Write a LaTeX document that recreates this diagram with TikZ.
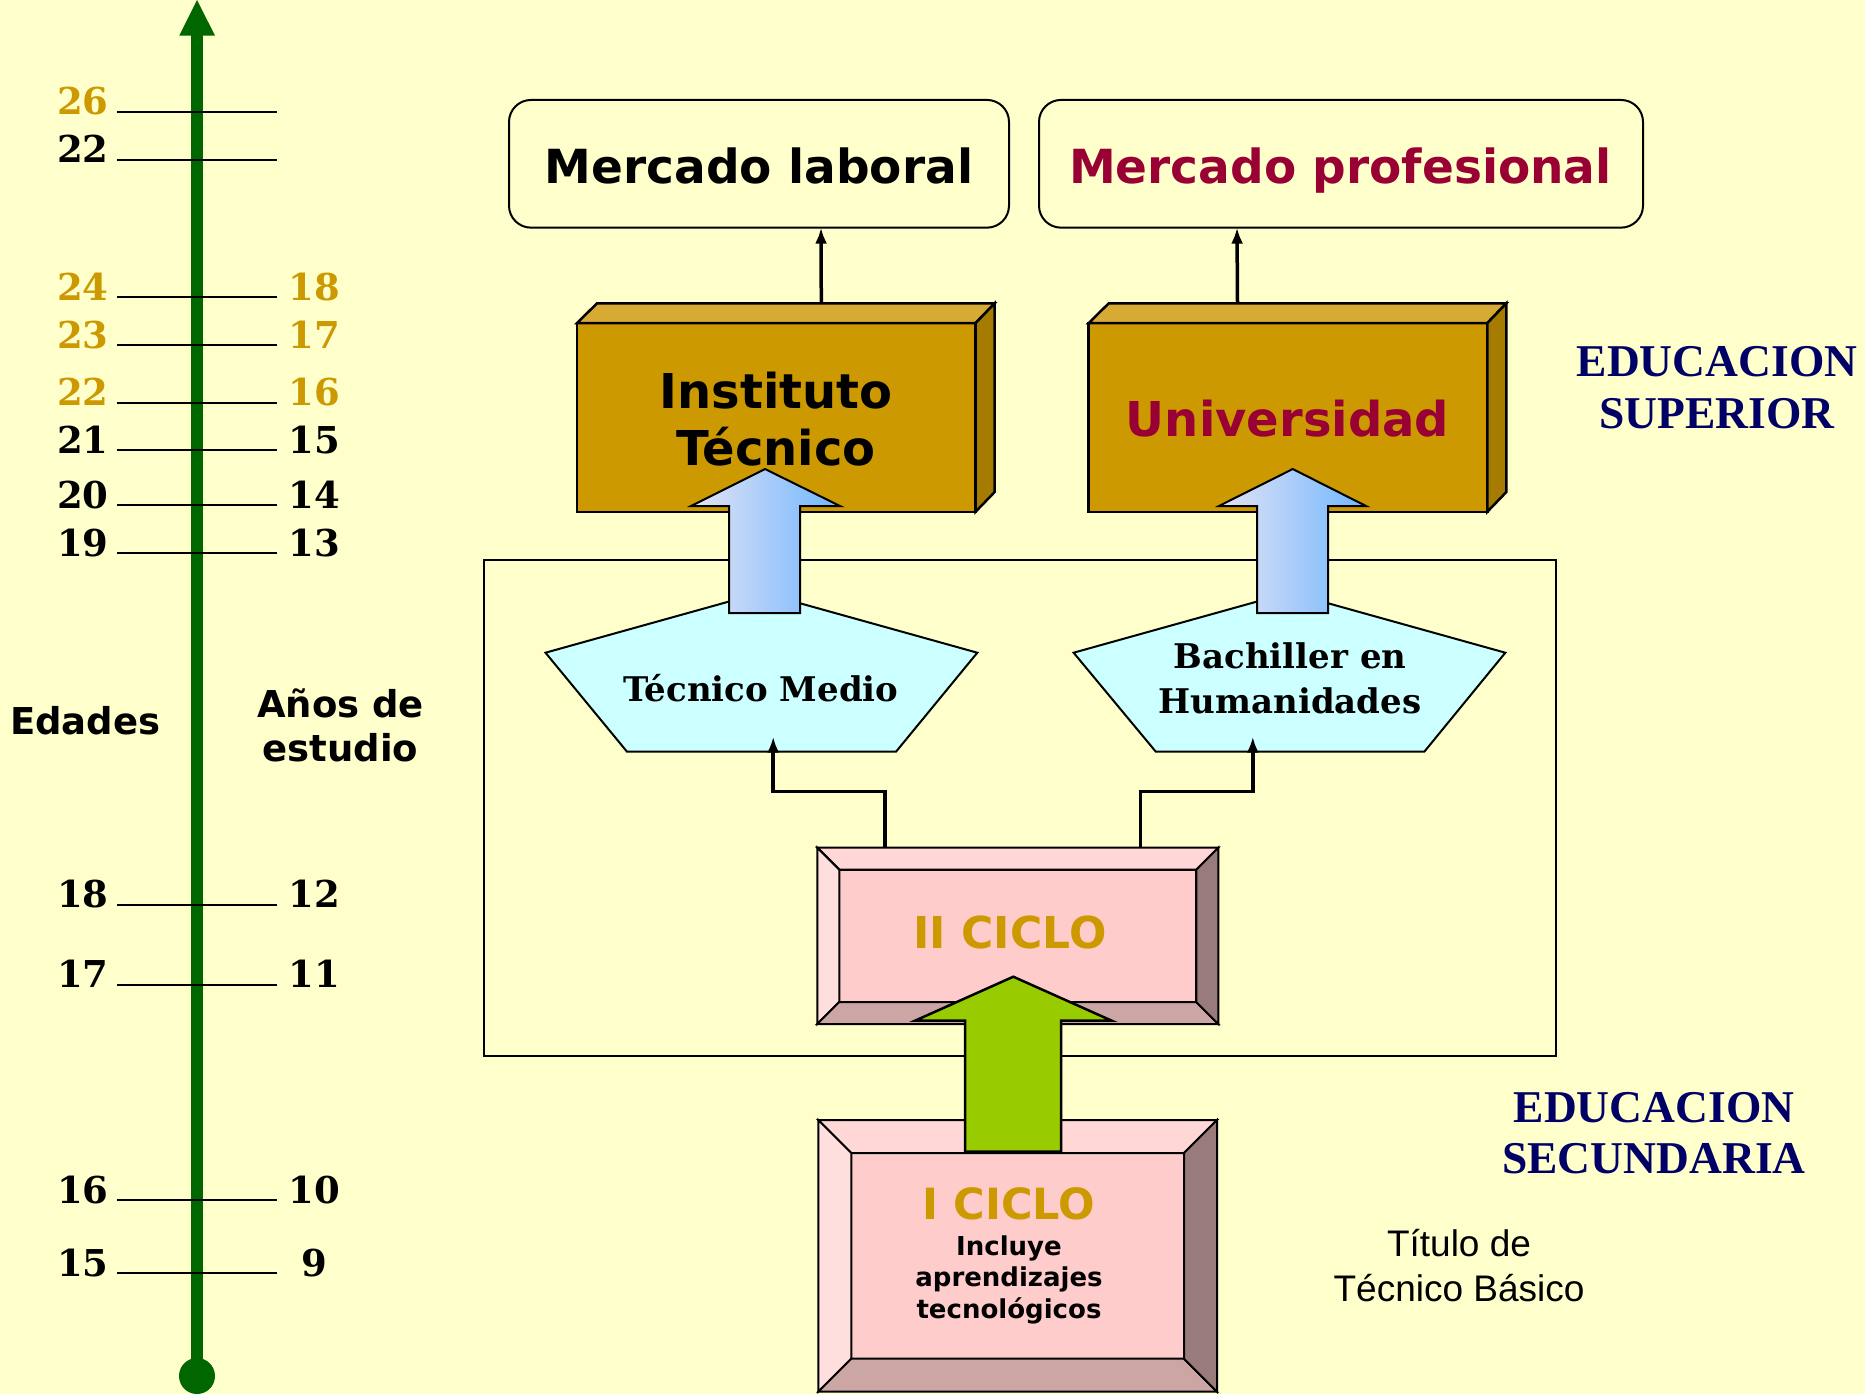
\documentclass[tikz,border=0pt]{standalone}
\usepackage{fontspec}
\usetikzlibrary{arrows.meta}
\newfontfamily\vsans{DejaVu Sans}
\newfontfamily\gserif{DejaVu Serif}
\newfontfamily\tserif{Liberation Serif}
\newfontfamily\asans{Liberation Sans}
\definecolor{bg}{HTML}{FFFFCC}
\definecolor{gold}{HTML}{CC9900}
\definecolor{goldtop}{HTML}{D6AA33}
\definecolor{goldside}{HTML}{A67C00}
\definecolor{crim}{HTML}{990033}
\definecolor{navy}{HTML}{000066}
\definecolor{axisgreen}{HTML}{006600}
\definecolor{cyanl}{HTML}{CCFFFF}
\definecolor{pinkin}{HTML}{FFCCCC}
\definecolor{pinktop}{HTML}{FFD7D7}
\definecolor{pinkleft}{HTML}{FFDEDE}
\definecolor{pinkbot}{HTML}{CCA5A5}
\definecolor{pinkright}{HTML}{9A7B7B}
\definecolor{lgreen}{HTML}{99CC00}
\definecolor{bla}{HTML}{E4E4F4}
\definecolor{blb}{HTML}{70B6FF}
\newcommand\bevbox[5]{%
 \filldraw[fill=pinkin,bev] ({#1+#5},{#2+#5}) rectangle ({#3-#5},{#4-#5});
 \filldraw[fill=pinktop,bev] (#1,#2) -- (#3,#2) -- ({#3-#5},{#2+#5}) -- ({#1+#5},{#2+#5}) -- cycle;
 \filldraw[fill=pinkleft,bev] (#1,#2) -- ({#1+#5},{#2+#5}) -- ({#1+#5},{#4-#5}) -- (#1,#4) -- cycle;
 \filldraw[fill=pinkbot,bev] (#1,#4) -- ({#1+#5},{#4-#5}) -- ({#3-#5},{#4-#5}) -- (#3,#4) -- cycle;
 \filldraw[fill=pinkright,bev] (#3,#2) -- (#3,#4) -- ({#3-#5},{#4-#5}) -- ({#3-#5},{#2+#5}) -- cycle;
}
\begin{document}
\begin{tikzpicture}[x=1pt,y=-1pt,
  bev/.style={draw=black,line width=2pt,line join=miter},
  conn/.style={line width=3.5pt,-{Latex[length=16pt,width=12pt]}},
  tick/.style={line width=2pt},
  agel/.style={anchor=base west,inner sep=0pt,font=\gserif\bfseries\fontsize{37}{40}\selectfont},
  yrl/.style={anchor=base,inner sep=0pt,font=\gserif\bfseries\fontsize{37}{40}\selectfont},
  vb/.style={inner sep=0pt,font=\vsans\bfseries\fontsize{#1}{#1}\selectfont},
  gb/.style={inner sep=0pt,font=\gserif\bfseries\fontsize{#1}{#1}\selectfont},
  tb/.style={inner sep=0pt,font=\tserif\bfseries\fontsize{#1}{#1}\selectfont,text=navy},
  ar/.style={inner sep=0pt,font=\asans\fontsize{#1}{#1}\selectfont},
  mbox/.style={draw=black,line width=2pt,rounded corners=22pt,inner sep=0pt,outer sep=0pt,minimum height=127.7pt},
  front/.style={draw=black,line width=2.5pt,fill=gold,inner sep=0pt,outer sep=0pt,minimum width=398.6pt,minimum height=188.7pt},
  face/.style={draw=black,line width=2.5pt,line join=miter},
  blk/.style={draw=black,line width=2pt,line join=miter}
]
\fill[bg] (0,0) rectangle (1865,1394);
\useasboundingbox (0,0) rectangle (1865,1394);

% time axis
\fill[axisgreen] (191,1376) rectangle (203,34);
\fill[axisgreen] (179.3,35.6) -- (197,0) -- (215,35.6) -- cycle;
\fill[axisgreen] (197,1376) circle[radius=18pt];

\foreach \yy/\aa/\ac [count=\i] in {111.7/26/gold,159.6/22/black,297/24/gold,345.2/23/gold,402.6/22/gold,450.4/21/black,505.2/20/black,553/19/black,904.8/18/black,984.8/17/black,1200/16/black,1273.4/15/black}{
  \draw[tick] (116.7,\yy) -- (276.7,\yy);
  \node[agel,text=\ac] (age\i) at (57,\yy+3) {\aa};
}
\foreach \yy/\bb/\bc [count=\i] in {297/18/gold,345.2/17/gold,402.6/16/gold,450.4/15/black,505.2/14/black,553/13/black,904.8/12/black,984.8/11/black,1200/10/black,1273.4/9/black}{
  \node[yrl,text=\bc] (yr\i) at (314,\yy+3) {\bb};
}
\node[vb=37,anchor=base west] (edades) at (10,734) {Edades};
\node[vb=37,anchor=base] (anos) at (340.5,717.5) {Años de};
\node[vb=37,anchor=base] (estudio) at (340.5,761) {estudio};

% markets
\node[mbox,minimum width=500pt] (ml) at (759,163.8) {};
\node[vb=47,anchor=base] (mltxt) at (759,183.3) {Mercado laboral};
\node[mbox,minimum width=604pt] (mp) at (1341,163.8) {};
\node[vb=47,anchor=base,text=crim] (mptxt) at (1340.4,183.3) {Mercado profesional};

% frame
\draw[line width=2pt] (484,559.5) rectangle (1556,1055.7);

% pentagons
\filldraw[fill=cyanl,blk] (545.5,652.7) -- (761.4,592.5) -- (977.3,652.7) -- (896,751.7) -- (627,751.7) -- cycle;
\filldraw[fill=cyanl,blk] (1073.6,652.7) -- (1289.5,592.5) -- (1505.3,652.7) -- (1424.3,751.7) -- (1155.8,751.7) -- cycle;
\node[gb=34,anchor=base] (tm) at (761,701.5) {Técnico Medio};
\node[gb=34,anchor=base] (bh1) at (1290,668.3) {Bachiller en};
\node[gb=34,anchor=base] (bh2) at (1290,713.3) {Humanidades};
\coordinate (tmtip) at (773.2,736.7);
\coordinate (bhtip) at (1252.8,736.7);

% 3D boxes
\node[front] (inst) at (776.3,417.4) {};
\filldraw[fill=goldtop,face] (inst.north west) -- ++(20,-19.7) -- ([xshift=19pt,yshift=19.7pt]inst.north east) -- (inst.north east) -- cycle;
\filldraw[fill=goldside,face] (inst.north east) -- ([xshift=19pt,yshift=19.7pt]inst.north east) -- ([xshift=19pt,yshift=19.7pt]inst.south east) -- (inst.south east) -- cycle;
\node[vb=48,anchor=base] (instA) at (776,408.3) {Instituto};
\node[vb=48,anchor=base] (instB) at (776,465) {Técnico};

\node[front] (uni) at (1288,417.4) {};
\filldraw[fill=goldtop,face] (uni.north west) -- ++(20,-19.7) -- ([xshift=19pt,yshift=19.7pt]uni.north east) -- (uni.north east) -- cycle;
\filldraw[fill=goldside,face] (uni.north east) -- ([xshift=19pt,yshift=19.7pt]uni.north east) -- ([xshift=19pt,yshift=19.7pt]uni.south east) -- (uni.south east) -- cycle;
\node[vb=48,anchor=base,text=crim] (unitxt) at (1287.5,436.7) {Universidad};

% blue block arrows
\path[blk,left color=bla,right color=blb] (729,613) -- (729,506) -- (691,506) -- (765,469) -- (840,506) -- (800,506) -- (800,613) -- cycle;
\path[blk,left color=bla,right color=blb] (1257,613) -- (1257,506) -- (1219,506) -- (1292.7,469) -- (1366,506) -- (1328,506) -- (1328,613) -- cycle;

% connectors to markets
\draw[conn] ([xshift=45pt,yshift=19.7pt]inst.north) -- ([xshift=62pt]ml.south);
\draw[conn] ([xshift=-50.5pt,yshift=19.7pt]uni.north) -- ([xshift=-104pt]mp.south);

% II ciclo
\node[inner sep=0pt,outer sep=0pt,minimum width=401pt,minimum height=176.3pt] (c2) at (1017.8,935.85) {};
\draw[conn] ([xshift=-133pt]c2.north) -- ++(0,-56) -| (tmtip);
\draw[conn] ([xshift=122.7pt]c2.north) -- ++(0,-56) -| (bhtip);
\bevbox{817.3}{847.7}{1218.3}{1024}{22}
\node[vb=44,anchor=base,text=gold] (c2txt) at (1010,948.3) {II CICLO};

% I ciclo
\node[inner sep=0pt,outer sep=0pt,minimum width=398.7pt,minimum height=271.7pt] (c1) at (1017.65,1255.85) {};
\bevbox{818.3}{1120}{1217}{1391.7}{33}
\node[vb=43,anchor=base,text=gold] (c1txt) at (1009,1219.3) {I CICLO};
\node[vb=26,anchor=base] (inc1) at (1009,1255) {Incluye};
\node[vb=26,anchor=base] (inc2) at (1009,1286.7) {aprendizajes};
\node[vb=26,anchor=base] (inc3) at (1009,1318.3) {tecnológicos};

% green arrow
\filldraw[fill=lgreen,draw=black,line width=2.5pt,line join=miter] (965,1151.7) -- (965,1020.7) -- (915,1020.7) -- (1013.3,976.7) -- (1111.7,1020.7) -- (1061,1020.7) -- (1061,1151.7) -- cycle;

% right texts
\node[tb=45.5,anchor=base] (es1) at (1717,376) {EDUCACION};
\node[tb=45.5,anchor=base] (es2) at (1717,428.3) {SUPERIOR};
\node[tb=45.5,anchor=base] (ed1) at (1654,1122.7) {EDUCACION};
\node[tb=45.5,anchor=base] (ed2) at (1654,1173.3) {SECUNDARIA};
\node[ar=37,anchor=base] (tit1) at (1459,1256.7) {Título de};
\node[ar=37,anchor=base] (tit2) at (1459,1301.7) {Técnico Básico};
\end{tikzpicture}
\end{document}
